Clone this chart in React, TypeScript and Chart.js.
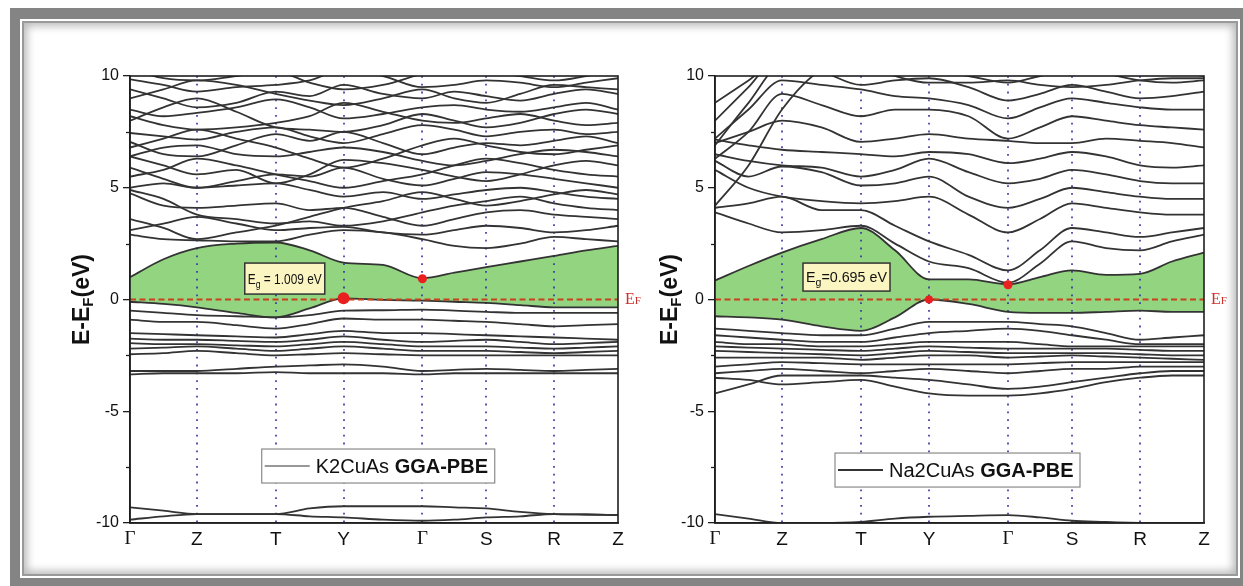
import { useEffect, useRef } from "react";
import { Chart, registerables } from "chart.js";

Chart.register(...registerables);

const SANS = '"Liberation Sans", Arial, sans-serif';
const SERIF = '"Liberation Serif", "Times New Roman", serif';

// k-path (high-symmetry points) and sampling grid along it
const kPath = [0, 67, 146, 214, 293, 357, 425, 489];
const kLabels = ["Γ", "Z", "T", "Y", "Γ", "S", "R", "Z"];
const kSamples = [0, 33.5, 67, 106.5, 146, 180, 214, 253.5, 293, 325, 357, 391, 425, 457, 489];
const yTicks = [-10, -5, 0, 5, 10];

// ---------------- K2CuAs ----------------
const k2TopValence = [-0.1, -0.2, -0.35, -0.6, -0.8, -0.4, 0.05, -0.02, -0.05, -0.1, -0.15, -0.25, -0.35, -0.35, -0.35];
const k2LowConduction = [1.0, 1.8, 2.3, 2.5, 2.55, 2.2, 1.65, 1.55, 0.95, 1.2, 1.45, 1.7, 1.95, 2.2, 2.4];
const k2Valence = [
  [-0.5, -0.6, -0.7, -0.75, -0.8, -0.7, -0.5, -0.48, -0.45, -0.5, -0.55, -0.6, -0.6, -0.6, -0.6],
  [-0.9, -1.0, -1.0, -1.15, -1.3, -1.1, -0.85, -0.9, -0.9, -0.95, -1.0, -1.1, -1.2, -1.15, -1.1],
  [-1.5, -1.55, -1.6, -1.65, -1.7, -1.55, -1.4, -1.5, -1.5, -1.55, -1.6, -1.65, -1.7, -1.75, -1.8],
  [-1.75, -1.8, -1.8, -1.85, -1.9, -1.8, -1.65, -1.8, -1.9, -1.85, -1.8, -1.9, -2.0, -1.95, -1.9],
  [-1.95, -2.0, -2.0, -2.05, -2.1, -2.0, -1.9, -2.0, -2.1, -2.1, -2.1, -2.15, -2.2, -2.15, -2.1],
  [-2.2, -2.15, -2.1, -2.2, -2.3, -2.2, -2.1, -2.2, -2.3, -2.3, -2.3, -2.35, -2.4, -2.35, -2.3],
  [-2.45, -2.4, -2.3, -2.4, -2.5, -2.45, -2.4, -2.45, -2.5, -2.5, -2.5, -2.5, -2.5, -2.5, -2.5],
  [-3.2, -3.2, -3.2, -3.1, -3.0, -2.95, -2.9, -3.0, -3.2, -3.15, -3.1, -3.15, -3.2, -3.15, -3.1],
  [-3.35, -3.3, -3.3, -3.3, -3.25, -3.3, -3.3, -3.3, -3.35, -3.3, -3.3, -3.3, -3.3, -3.3, -3.3],
];
const k2Conduction = [
  [2.9, 2.7, 2.65, 2.6, 2.6, 2.9, 3.1, 3.0, 2.7, 2.4, 2.3, 2.5, 2.8, 2.7, 2.6],
  [3.1, 3.4, 3.7, 3.4, 3.1, 3.2, 3.25, 3.0, 2.9, 3.1, 3.3, 3.2, 3.0, 3.1, 3.3],
  [4.75, 4.2, 4.1, 4.2, 4.3, 4.0, 4.1, 3.7, 3.3, 3.6, 3.9, 4.0, 3.8, 3.7, 3.6],
  [4.9, 4.5, 3.8, 3.6, 3.4, 3.5, 3.3, 3.5, 3.9, 4.2, 4.4, 4.6, 4.3, 4.1, 4.0],
  [5.0, 5.2, 5.0, 5.1, 5.2, 4.9, 4.6, 4.8, 4.5, 4.7, 4.9, 5.0, 4.8, 4.6, 4.5],
  [5.9, 5.4, 5.0, 5.3, 5.6, 5.5, 5.9, 5.4, 5.1, 5.4, 5.7, 5.6, 5.4, 5.2, 5.0],
  [6.4, 6.0, 5.6, 5.8, 5.2, 5.6, 6.25, 6.1, 5.8, 5.5, 5.3, 5.6, 6.0, 6.2, 6.0],
  [6.4, 6.8, 6.9, 6.5, 6.4, 6.6, 6.8, 6.6, 6.2, 6.0, 6.2, 6.5, 6.7, 6.6, 6.4],
  [7.05, 6.5, 6.4, 6.9, 7.4, 7.1, 7.5, 7.0, 6.5, 6.8, 7.0, 6.9, 7.1, 7.3, 7.0],
  [7.45, 7.3, 7.15, 7.5, 7.7, 7.3, 7.0, 7.4, 7.8, 7.6, 7.3, 7.5, 7.6, 7.4, 7.5],
  [8.2, 7.8, 7.6, 7.7, 7.9, 8.2, 8.8, 8.4, 8.0, 7.9, 8.1, 8.3, 8.0, 7.8, 7.9],
  [8.5, 8.2, 8.35, 8.6, 8.95, 8.6, 8.1, 8.3, 8.6, 8.7, 8.5, 8.4, 8.6, 8.8, 8.5],
  [9.4, 9.0, 8.6, 8.8, 9.3, 9.1, 9.6, 9.2, 9.0, 9.3, 9.1, 8.9, 9.2, 9.4, 9.2],
  [9.85, 9.6, 9.3, 9.5, 9.6, 9.8, 10.3, 10.0, 9.5, 9.6, 9.8, 9.7, 9.5, 9.7, 9.9],
  [10.3, 9.9, 9.8, 10.0, 10.2, 9.7, 9.4, 9.6, 10.1, 10.4, 10.2, 10.0, 9.8, 10.0, 10.3],
  [6.8, 7.2, 7.6, 7.2, 6.8, 6.3, 5.9, 6.3, 6.9, 7.2, 6.9, 6.6, 6.5, 6.7, 6.9],
  [8.0, 8.6, 9.0, 8.4, 7.7, 7.6, 7.5, 7.8, 8.3, 8.0, 7.7, 7.9, 8.3, 8.5, 8.3],
  [3.6, 3.2, 2.7, 3.0, 3.3, 3.7, 4.1, 4.4, 4.8, 4.5, 4.2, 4.4, 4.7, 4.9, 4.7],
  [5.5, 5.8, 6.3, 6.0, 5.6, 5.3, 5.0, 5.3, 5.6, 6.0, 6.3, 6.1, 5.8, 5.6, 5.5],
  [9.0, 9.4, 9.8, 9.6, 9.2, 8.9, 8.7, 9.0, 9.4, 9.0, 8.8, 9.2, 9.6, 9.5, 9.4],
];
const k2Core = [
  [-9.3, -9.45, -9.6, -9.6, -9.6, -9.35, -9.25, -9.25, -9.25, -9.3, -9.35, -9.5, -9.6, -9.62, -9.65],
  [-9.85, -9.7, -9.6, -9.6, -9.6, -9.7, -9.75, -9.85, -9.9, -9.85, -9.75, -9.7, -9.6, -9.62, -9.65],
];
const k2GapK = [214, 293];
const k2GapE = [0.06, 0.93];

// ---------------- Na2CuAs ----------------
const na2TopValence = [-0.75, -0.8, -0.9, -1.2, -1.4, -0.8, 0.0, -0.2, -0.55, -0.6, -0.6, -0.55, -0.5, -0.55, -0.55];
const na2LowConduction = [0.85, 1.5, 2.1, 2.7, 3.2, 2.2, 0.9, 0.9, 0.68, 1.0, 1.3, 1.1, 1.15, 1.7, 2.1];
const na2Valence = [
  [-1.3, -1.4, -1.5, -1.6, -1.6, -1.3, -1.0, -1.0, -1.0, -1.1, -1.2, -1.5, -1.8, -1.7, -1.6],
  [-1.6, -1.7, -1.8, -1.9, -1.9, -1.7, -1.5, -1.4, -1.3, -1.4, -1.6, -1.8, -2.0, -2.0, -2.0],
  [-1.9, -2.0, -2.0, -2.1, -2.1, -2.0, -1.9, -1.9, -1.9, -2.0, -2.1, -2.1, -2.1, -2.1, -2.1],
  [-2.1, -2.15, -2.2, -2.25, -2.3, -2.2, -2.1, -2.15, -2.2, -2.2, -2.2, -2.2, -2.25, -2.3, -2.3],
  [-2.3, -2.35, -2.4, -2.45, -2.5, -2.4, -2.3, -2.35, -2.4, -2.4, -2.4, -2.4, -2.45, -2.5, -2.5],
  [-2.6, -2.6, -2.6, -2.6, -2.7, -2.6, -2.5, -2.5, -2.6, -2.55, -2.5, -2.55, -2.6, -2.65, -2.7],
  [-3.0, -2.9, -2.8, -2.85, -2.9, -2.9, -2.9, -2.9, -2.9, -2.85, -2.8, -2.8, -2.8, -2.8, -2.8],
  [-3.3, -3.2, -3.1, -3.2, -3.3, -3.2, -3.1, -3.2, -3.3, -3.2, -3.1, -3.1, -3.0, -3.0, -3.0],
  [-4.2, -3.8, -3.4, -3.4, -3.4, -3.5, -3.6, -3.8, -4.0, -3.9, -3.7, -3.5, -3.3, -3.2, -3.2],
  [-3.5, -3.6, -3.8, -3.7, -3.6, -3.9, -4.2, -4.3, -4.3, -4.2, -4.0, -3.7, -3.5, -3.4, -3.4],
];
const na2Conduction = [
  [3.9, 3.4, 3.0, 3.1, 3.3, 2.5, 1.7, 1.4, 0.75, 1.6, 2.6, 2.3, 2.2, 2.6, 2.9],
  [4.1, 4.3, 4.6, 4.0, 4.0, 3.3, 2.6, 2.0, 1.3, 2.2, 3.2, 3.0, 2.8, 3.0, 3.2],
  [5.8, 5.0, 4.6, 4.4, 4.3, 4.4, 4.6, 3.8, 3.0, 3.6, 4.3, 4.1, 3.9, 3.8, 3.8],
  [6.2, 5.5, 5.95, 5.7, 5.1, 5.2, 5.5, 4.6, 4.1, 4.5, 5.0, 4.8, 4.6, 4.5, 4.5],
  [6.5, 6.2, 6.0, 5.9, 5.5, 5.8, 6.3, 5.7, 5.2, 5.4, 5.8, 5.6, 5.3, 5.2, 5.2],
  [7.15, 6.9, 6.7, 6.6, 6.5, 6.4, 6.6, 6.5, 6.1, 6.3, 6.6, 6.4, 6.0, 5.9, 6.0],
  [7.0, 7.5, 8.0, 7.7, 7.05, 7.2, 7.4, 7.2, 7.1, 7.0, 7.0, 7.2, 7.1, 7.0, 6.8],
  [6.3, 7.5, 9.2, 8.7, 8.2, 8.5, 8.5, 8.2, 7.2, 7.7, 8.2, 8.0, 7.8, 7.7, 7.6],
  [7.2, 8.5, 9.8, 9.6, 9.4, 9.1, 9.0, 8.7, 8.1, 8.6, 9.0, 8.8, 8.6, 8.5, 8.5],
  [6.9, 8.8, 10.5, 10.2, 9.6, 9.8, 9.9, 9.5, 8.9, 9.2, 9.6, 9.3, 9.0, 9.1, 9.3],
  [4.2, 6.0, 8.5, 10.3, 10.8, 10.5, 10.3, 10.0, 9.7, 10.0, 10.3, 10.1, 9.8, 9.7, 9.8],
  [8.0, 9.5, 11.0, 11.0, 11.0, 11.0, 10.8, 10.5, 10.2, 10.5, 10.8, 10.6, 10.3, 10.2, 10.0],
  [8.8, 9.8, 10.8, 10.6, 10.5, 10.0, 9.7, 9.7, 9.8, 9.6, 9.5, 9.6, 9.8, 9.9, 9.9],
];
const na2Core = [
  [-9.6, -9.8, -10.0, -10.0, -9.95, -9.8, -9.72, -9.68, -9.65, -9.75, -9.9, -9.95, -10.0, -10.02, -10.05],
];
const na2GapK = [214, 293];
const na2GapE = [0.0, 0.66];

const GREEN = "#93d480";
const BAND = "#333333";

function drawSubText(ctx: CanvasRenderingContext2D, parts: { t: string; font: string; dy: number }[], x: number, y: number, maxW?: number) {
  let total = 0;
  for (const p of parts) { ctx.font = p.font; total += ctx.measureText(p.t).width; }
  const sx = maxW && total > maxW ? maxW / total : 1;
  ctx.save();
  ctx.translate(x, y);
  ctx.scale(sx, 1);
  let cx = 0;
  for (const p of parts) { ctx.font = p.font; ctx.fillText(p.t, cx, p.dy); cx += ctx.measureText(p.t).width; }
  ctx.restore();
}

const decor = {
  id: "decor",
  beforeDatasetsDraw(chart: any) {
    const { ctx, chartArea: a, scales } = chart;
    ctx.save();
    ctx.strokeStyle = "#2f2f9e";
    ctx.lineWidth = 1.6;
    ctx.setLineDash([1.8, 6]);
    for (let i = 1; i < kPath.length - 1; i++) {
      const px = Math.round(scales.x.getPixelForValue(kPath[i]));
      ctx.beginPath();
      ctx.moveTo(px, a.top);
      ctx.lineTo(px, a.bottom);
      ctx.stroke();
    }
    ctx.restore();
  },
  afterDatasetsDraw(chart: any, _args: any, o: any) {
    const { ctx, chartArea: a, scales } = chart;
    const X = (v: number) => scales.x.getPixelForValue(v);
    const Y = (v: number) => scales.y.getPixelForValue(v);
    ctx.save();
    // frame
    ctx.strokeStyle = "#1e1e1e";
    ctx.lineWidth = 1.6;
    ctx.strokeRect(a.left, a.top, a.right - a.left, a.bottom - a.top);
    // minor ticks
    ctx.lineWidth = 1.3;
    for (const v of [-7.5, -2.5, 2.5, 7.5]) {
      const py = Math.round(Y(v)) + 0.5;
      ctx.beginPath();
      ctx.moveTo(a.left - 4, py);
      ctx.lineTo(a.left, py);
      ctx.stroke();
    }
    // Eg box
    const ex = X(o.egK), ey = Y(o.egE);
    ctx.fillStyle = "#fbf5c2";
    ctx.fillRect(ex, ey, o.egW, o.egH);
    ctx.strokeStyle = "#333";
    ctx.lineWidth = 1.5;
    ctx.strokeRect(ex, ey, o.egW, o.egH);
    ctx.fillStyle = "#111";
    ctx.textBaseline = "alphabetic";
    drawSubText(ctx, [
      { t: "E", font: `15px ${SANS}`, dy: 0 },
      { t: "g", font: `11px ${SANS}`, dy: 4 },
      { t: o.egText, font: `15px ${SANS}`, dy: 0 },
    ], ex + 3, ey + o.egH / 2 + 5, o.egW - 6);
    // E_F label
    ctx.fillStyle = "#cf2f2a";
    ctx.textBaseline = "middle";
    drawSubText(ctx, [
      { t: "E", font: `16px ${SERIF}`, dy: 0 },
      { t: "F", font: `11px ${SERIF}`, dy: 2 },
    ], a.right + 7, Y(0));
    // legend box
    const lx = X(o.legK), ly = Y(o.legE);
    ctx.fillStyle = "#ffffff";
    ctx.fillRect(lx, ly, o.legW, o.legH);
    ctx.strokeStyle = "#8a8a8a";
    ctx.lineWidth = 1.2;
    ctx.strokeRect(lx, ly, o.legW, o.legH);
    ctx.strokeStyle = "#333";
    ctx.lineWidth = o.legLine;
    ctx.beginPath();
    ctx.moveTo(lx + 3, ly + o.legH / 2);
    ctx.lineTo(lx + 48, ly + o.legH / 2);
    ctx.stroke();
    ctx.fillStyle = "#111";
    ctx.textBaseline = "middle";
    drawSubText(ctx, [
      { t: o.legName + " ", font: `20px ${SANS}`, dy: 0 },
      { t: "GGA-PBE", font: `bold 20px ${SANS}`, dy: 0 },
    ], lx + 54, ly + o.legH / 2 + 1, o.legW - 58);
    // y title
    ctx.save();
    ctx.translate(o.titleX, (a.top + a.bottom) / 2);
    ctx.rotate(-Math.PI / 2);
    const parts = [
      { t: "E-E", font: `bold 23px ${SANS}`, dy: 0 },
      { t: "F", font: `bold 15px ${SANS}`, dy: 6 },
      { t: "(eV)", font: `bold 23px ${SANS}`, dy: 0 },
    ];
    let tw = 0;
    for (const p of parts) { ctx.font = p.font; tw += ctx.measureText(p.t).width; }
    ctx.fillStyle = "#111";
    drawSubText(ctx, parts, -tw / 2, 0);
    ctx.restore();
    ctx.restore();
  },
};

function band(vals: number[], extra: any = {}) {
  return {
    type: "line",
    data: kSamples.map((k, i) => ({ x: k, y: vals[i] })),
    borderColor: BAND,
    borderWidth: 1.8,
    pointRadius: 0,
    cubicInterpolationMode: "monotone",
    fill: false,
    ...extra,
  };
}

function makeConfig(p: any) {
  const datasets: any[] = [
    {
      type: "scatter",
      data: p.gapK.map((k: number, i: number) => ({ x: k, y: p.gapE[i] })),
      pointRadius: p.dotR,
      backgroundColor: "#ea1f1f",
      borderWidth: 0,
    },
    {
      type: "line",
      data: [{ x: kPath[0], y: 0 }, { x: kPath[kPath.length - 1], y: 0 }],
      borderColor: "#c8411c",
      borderWidth: 2.2,
      borderDash: [6, 3.5],
      pointRadius: 0,
      fill: false,
    },
    band(p.top),
    band(p.low, { fill: "-1", backgroundColor: GREEN }),
    ...p.valence.map((b: number[]) => band(b)),
    ...p.conduction.map((b: number[]) => band(b)),
    ...p.core.map((b: number[]) => band(b)),
  ];
  return {
    type: "line",
    data: { datasets },
    plugins: [decor],
    options: {
      animation: false,
      responsive: false,
      devicePixelRatio: 1,
      layout: { padding: { left: 0, top: 36, right: 32, bottom: 0 } },
      plugins: {
        legend: { display: false },
        tooltip: { enabled: false },
        filler: { drawTime: "beforeDatasetsDraw" },
        decor: p.decor,
      },
      scales: {
        x: {
          type: "linear",
          min: kPath[0],
          max: kPath[kPath.length - 1],
          afterBuildTicks: (s: any) => { s.ticks = kPath.map((v) => ({ value: v })); },
          afterFit: (s: any) => { s.height = 42; },
          grid: { display: false, drawTicks: false },
          border: { display: true, color: "#1e1e1e", width: 1.6 },
          ticks: {
            autoSkip: false,
            maxRotation: 0,
            padding: 5,
            color: "#111",
            callback: (_v: any, i: number) => kLabels[i],
            font: (c: any) => ({ family: kLabels[c.index] === "Γ" ? SERIF : SANS, size: 19 }),
          },
        },
        y: {
          min: -10,
          max: 10,
          afterBuildTicks: (s: any) => { s.ticks = yTicks.map((v) => ({ value: v })); },
          afterFit: (s: any) => { s.width = p.yWidth; },
          grid: { drawOnChartArea: false, drawTicks: true, tickLength: 7, color: "#1e1e1e", lineWidth: 1.3 },
          border: { display: true, color: "#1e1e1e", width: 1.6 },
          ticks: {
            padding: 4,
            color: "#111",
            font: { family: SANS, size: 16 },
            callback: (v: any) => String(v),
          },
        },
      },
    },
  };
}

const panels = [
  {
    left: 28,
    width: 622,
    yWidth: 102,
    top: k2TopValence,
    low: k2LowConduction,
    valence: k2Valence,
    conduction: k2Conduction,
    core: k2Core,
    gapK: k2GapK,
    gapE: k2GapE,
    dotR: [6, 4.5],
    decor: {
      egK: 115, egE: 1.63, egW: 80, egH: 31, egText: " = 1.009 eV",
      legK: 132, legE: -6.69, legW: 233, legH: 34, legName: "K2CuAs", legLine: 1.2,
      titleX: 55,
    },
  },
  {
    left: 650,
    width: 586,
    yWidth: 65,
    top: na2TopValence,
    low: na2LowConduction,
    valence: na2Valence,
    conduction: na2Conduction,
    core: na2Core,
    gapK: na2GapK,
    gapE: na2GapE,
    dotR: [4, 4.5],
    decor: {
      egK: 88, egE: 1.63, egW: 87, egH: 28, egText: "=0.695 eV",
      legK: 120, legE: -6.87, legW: 245, legH: 34, legName: "Na2CuAs", legLine: 2,
      titleX: 21,
    },
  },
];

function Panel({ p }: { p: any }) {
  const ref = useRef<HTMLCanvasElement | null>(null);
  useEffect(() => {
    if (!ref.current) return;
    const chart = new Chart(ref.current, makeConfig(p) as any);
    return () => chart.destroy();
  }, [p]);
  return (
    <canvas
      ref={ref}
      width={p.width}
      height={525}
      style={{ position: "absolute", left: p.left, top: 40, width: p.width, height: 525, zIndex: 2 }}
    />
  );
}

export default function App() {
  return (
    <div style={{ position: "absolute", left: 0, top: 0, width: 1243, height: 586, overflow: "hidden", background: "#fff" }}>
      <div style={{ position: "absolute", left: 10, top: 8, width: 1233, height: 578, background: "#848484" }} />
      <div style={{ position: "absolute", left: 20, top: 19, width: 1220, height: 559, background: "#ffffff" }} />
      <div
        style={{
          position: "absolute",
          left: 22,
          top: 21,
          width: 1216,
          height: 555,
          boxSizing: "border-box",
          border: "2px solid #9a9a9a",
          background: "#ffffff",
          boxShadow: "inset 0 0 9px 3px rgba(0,0,0,0.28)",
        }}
      />
      {panels.map((p, i) => (
        <Panel key={i} p={p} />
      ))}
    </div>
  );
}
